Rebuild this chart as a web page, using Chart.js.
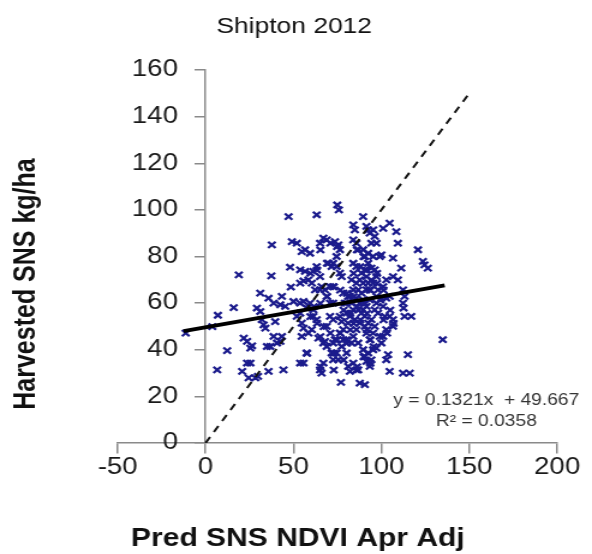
<!DOCTYPE html>
<html>
<head>
<meta charset="utf-8">
<script src="https://cdn.jsdelivr.net/npm/chart.js@4/dist/chart.umd.min.js"></script>
<style>
html,body{margin:0;padding:0;background:#fff;overflow:hidden;}
#wrap{width:493px;height:554px;transform:scaleX(1.2008);transform-origin:0 0;}
</style>
</head>
<body>
<div id="wrap"><canvas id="c" width="493" height="554"></canvas></div>
<script>
const chartTitle = "Shipton 2012";
const xAxisTitle = "Pred SNS NDVI Apr Adj";
const yAxisTitle = "Harvested SNS kg/ha";
const equationLines = ["y = 0.1321x  + 49.667", "R\u00b2 = 0.0358"];

const predX = [
-11.3,3.8,7.0,16.0,18.9,12.3,6.6,20.8,23.6,21.7,23.6,25.5,26.4,24.5,25.5,28.3,29.8,29.2,31.1,31.1,
32.0,33.0,34.0,35.8,34.9,36.8,37.7,37.4,35.8,38.7,39.6,40.6,42.5,43.4,44.3,43.4,42.5,45.3,47.2,48.1,
49.1,51.9,48.5,50.0,53.8,55.7,53.8,56.6,54.7,56.6,59.4,61.3,58.5,63.2,65.1,67.0,68.9,63.2,65.1,66.0,
67.9,69.8,71.7,54.7,55.7,54.7,53.8,55.7,57.5,58.5,60.4,61.3,63.2,64.2,65.1,66.0,67.0,68.9,70.8,72.6,
73.6,74.5,75.5,74.9,75.8,73.6,75.5,76.4,74.5,72.6,76.4,77.4,78.3,79.2,76.4,77.4,76.4,78.3,77.4,80.2,
81.1,77.0,82.1,84.0,85.8,86.8,84.0,84.9,84.0,85.8,86.8,84.0,85.8,83.0,81.1,83.0,84.0,82.1,84.9,85.8,
84.0,86.8,89.6,87.7,90.6,89.6,90.6,91.5,92.5,93.4,94.3,95.3,93.4,95.3,96.2,92.5,90.6,89.6,91.5,93.4,
89.6,91.5,90.6,92.5,94.3,90.6,89.6,92.5,95.3,99.1,100.0,91.5,92.5,93.4,95.3,96.2,97.2,94.3,101.0,104.7,
108.5,109.4,106.6,111.3,106.6,109.4,102.8,101.0,98.1,97.2,100.0,102.8,104.7,101.0,98.1,101.9,104.7,106.6,102.8,101.0,
99.1,100.0,97.2,103.8,102.8,104.7,106.6,112.3,113.2,112.3,112.6,113.2,117.0,115.1,112.3,116.1,120.8,123.6,124.5,126.4,
134.9,80.2,82.1,84.0,85.8,87.7,88.7,89.6,85.8,86.8,87.7,88.7,91.5,92.5,93.4,94.3,95.3,96.2,97.2,86.8,
88.7,90.6,87.7,90.6,91.5,94.3,96.2,97.2,80.2,81.1,78.3,80.2,83.0,72.6,70.8,68.9,72.6,70.8,72.6,74.5,
60.4,62.3,65.1,59.4,61.3,57.5,51.9,53.8,67.0,68.9,67.9,71.7,72.6,38.7,53.8,55.7,
80.4,84.2,78.5,82.3,86.1,89.9,91.8,88.0,84.2,82.3,76.6,74.8,80.4,91.8,93.7,95.6,97.5,93.7,101.2,99.4,
76.6,72.9,69.1,65.3,61.5,59.6,63.4,67.2,71.0,65.3,59.6,63.4,69.1,65.3,71.0,74.8,86.1,89.9,88.0,84.2,
91.8,97.5,72.9,78.5,89.9,93.7,86.1,72.9,65.3,57.7,103.2,101.2,106.9,105.0
];
const harvestedY = [
47.1,49.9,54.8,58.1,72.1,39.6,31.4,30.7,34.3,45.0,43.6,40.7,41.7,27.9,34.3,27.9,28.6,57.9,64.3,56.4,
52.9,50.7,49.3,30.7,41.4,41.4,85.0,71.7,62.1,60.0,52.1,42.9,43.6,45.7,31.4,62.9,59.3,58.6,97.1,75.4,
86.4,85.7,66.9,60.7,60.0,60.7,74.3,73.6,82.1,82.9,81.4,73.6,70.0,97.9,85.7,87.9,87.1,75.7,71.4,67.1,
65.7,77.1,75.7,51.4,49.3,45.7,34.3,34.3,38.6,47.1,48.6,54.3,52.9,45.0,31.4,30.0,34.3,50.0,54.3,42.9,
44.3,38.6,35.7,102.1,100.0,86.4,85.0,82.9,80.0,60.0,72.9,71.4,64.3,60.0,54.3,52.1,47.1,44.3,41.4,38.6,
32.9,26.0,30.7,34.3,31.4,31.4,93.6,91.4,87.1,85.7,82.9,77.1,75.7,70.0,62.9,60.0,57.1,54.3,52.9,48.6,
45.7,42.9,97.1,25.7,25.0,40.0,37.1,35.0,38.6,32.9,35.7,40.0,44.3,47.1,50.0,51.4,54.3,57.1,58.6,61.4,
68.6,71.4,74.3,77.1,75.0,80.0,82.9,81.4,80.0,80.0,80.7,92.9,91.4,90.0,91.4,88.6,85.7,85.7,92.1,94.3,
90.7,85.7,79.3,75.0,71.4,70.0,70.0,67.1,65.7,62.9,62.1,62.1,62.9,58.6,55.7,54.3,54.3,52.9,48.6,45.7,
45.7,42.9,40.7,37.9,35.7,30.7,50.0,65.7,62.9,60.0,57.9,54.3,54.3,37.9,30.0,30.0,82.9,77.9,76.4,75.0,
44.3,60.0,62.9,65.7,62.1,60.0,64.3,61.4,68.6,65.7,70.0,72.9,65.7,68.6,65.7,70.0,68.6,74.3,71.4,57.1,
55.7,60.0,51.4,50.0,47.1,52.9,57.1,60.0,55.7,51.4,48.6,44.3,42.9,52.9,60.0,62.9,67.1,67.1,77.1,75.7,
68.6,65.7,65.7,60.0,57.1,57.9,54.3,55.7,42.9,41.4,43.6,38.6,35.7,45.7,68.6,69.5,
64.2,62.8,57.0,55.6,58.5,59.9,55.6,52.8,51.3,48.5,47.1,44.2,42.8,48.5,44.2,41.3,68.5,65.6,65.6,61.3,
65.6,67.0,62.8,59.9,58.5,54.2,51.3,49.9,47.1,45.6,72.8,74.2,77.1,82.8,85.7,84.2,82.8,79.9,75.6,72.8,
74.2,72.8,38.5,35.6,37.0,34.2,32.7,31.3,32.7,38.5,47.1,52.8,51.3,57.0
];
const oneToOneX = [0, 150];
const oneToOneY = [0, 150];
const trendX = [-12.5, 136];
const trendY = [48.0, 67.6];
const xMin = -50, xMax = 200, xStep = 50;
const yMin = 0, yMax = 160, yStep = 20;

const FONT = "'Liberation Sans', Arial, sans-serif";

const textPlugin = {
  id: 'texts',
  afterDraw(chart) {
    const ctx = chart.ctx;
    ctx.save();
    ctx.fillStyle = '#111';
    ctx.textAlign = 'center';
    ctx.textBaseline = 'middle';
    ctx.font = "22px " + FONT;
    ctx.fillText(chartTitle, 245, 27);
    ctx.font = "bold 25px " + FONT;
    ctx.fillText(xAxisTitle, 248, 539);
    ctx.save();
    ctx.translate(22, 284);
    ctx.rotate(-Math.PI / 2);
    ctx.fillText(yAxisTitle, 0, 0);
    ctx.restore();
    ctx.fillStyle = '#333';
    ctx.font = "16px " + FONT;
    ctx.fillText(equationLines[0], 405, 401);
    ctx.fillText(equationLines[1], 405, 422);
    ctx.restore();
  }
};

const pts = predX.map((x, i) => ({x: x, y: harvestedY[i]}));
const toPts = (xs, ys) => xs.map((x, i) => ({x: x, y: ys[i]}));

new Chart(document.getElementById('c'), {
  type: 'scatter',
  data: {
    datasets: [
      {
        label: 'trend',
        type: 'line',
        data: toPts(trendX, trendY),
        borderColor: '#000',
        borderWidth: 4,
        pointRadius: 0,
        fill: false,
        order: 0
      },
      {
        label: '1:1',
        type: 'line',
        data: toPts(oneToOneX, oneToOneY),
        borderColor: '#111',
        borderWidth: 2,
        borderDash: [7, 6],
        pointRadius: 0,
        fill: false,
        order: 1
      },
      {
        label: 'obs',
        data: pts,
        pointStyle: 'crossRot',
        pointRadius: 4.4,
        pointBorderWidth: 2.2,
        borderColor: '#1b1b8c',
        backgroundColor: '#1b1b8c',
        order: 2
      }
    ]
  },
  options: {
    responsive: false,
    animation: false,
    devicePixelRatio: 1,
    layout: {padding: {left: 98, right: 29, top: 70, bottom: 111}},
    plugins: {legend: {display: false}, tooltip: {enabled: false}, title: {display: false}},
    scales: {
      x: {
        type: 'linear',
        position: {y: 0},
        min: xMin, max: xMax,
        ticks: {stepSize: xStep, color: '#1a1a1a', font: {family: FONT, size: 23}, padding: 1, maxRotation: 0},
        grid: {drawOnChartArea: false, drawTicks: true, tickLength: 10, color: '#8a8a8a', lineWidth: 1.5},
        border: {display: true, color: '#8a8a8a', width: 1.5}
      },
      y: {
        type: 'linear',
        position: {x: 0},
        min: yMin, max: yMax,
        ticks: {stepSize: yStep, color: '#1a1a1a', font: {family: FONT, size: 23},
                callback: (v) => v + '\u2003'},
        grid: {drawOnChartArea: false, drawTicks: true, tickLength: 8, color: '#8a8a8a', lineWidth: 1.5},
        border: {display: true, color: '#8a8a8a', width: 1.5}
      }
    }
  },
  plugins: [textPlugin]
});
</script>
</body>
</html>
